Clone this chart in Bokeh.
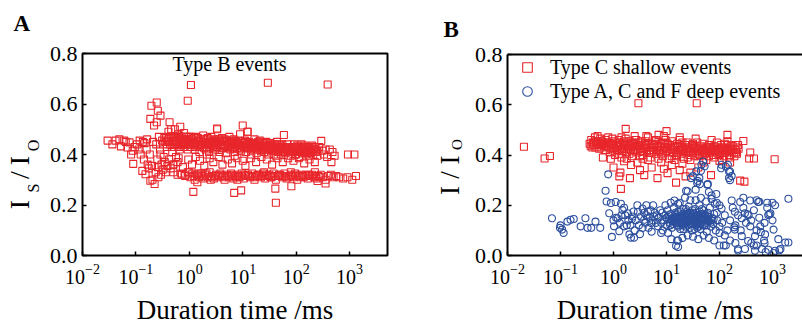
import numpy as np
from bokeh.plotting import figure
from bokeh.layouts import row
from bokeh.models import (FixedTicker, PrintfTickFormatter, Label, Legend, LegendItem,
                          LogAxis, Range1d)
from bokeh.embed import file_html
from bokeh.resources import INLINE

FONT = "Liberation Serif"
RED = "#e8262b"
BLUE = "#2c4f9e"

x_ticks = [0.01, 0.1, 1, 10, 100, 1000]
y_ticks = [0.0, 0.2, 0.4, 0.6, 0.8]
x_label = "Duration time /ms"
legend_labels = ["Type C shallow events", "Type A, C and F deep events"]

# ---- Panel A: Type B events  (log10 duration in ms, I_S/I_O) ----
typeB_points = [
    (-1.53,0.455),(-1.44,0.44),(-1.38,0.455),(-1.31,0.46),(-1.28,0.432),(-1.22,0.455),(-1.19,0.45),(-1.16,0.428),
    (-1.12,0.448),(-1.09,0.40),(-1.06,0.415),(-1.05,0.363),(-1.02,0.43),(-0.98,0.44),(-0.95,0.42),(-0.93,0.455),
    (-0.91,0.40),(-0.88,0.335),(-0.87,0.45),(-0.85,0.38),(-0.84,0.445),(-0.82,0.322),(-0.80,0.42),(-0.79,0.46),
    (-0.78,0.36),(-0.76,0.345),(-0.73,0.296),(-0.74,0.40),(-0.71,0.593),(-0.73,0.541),(-0.70,0.355),(-0.69,0.30),
    (-0.68,0.45),(-0.61,0.606),(-0.66,0.515),(-0.65,0.283),(-0.63,0.33),(-0.59,0.573),(-0.62,0.44),(-0.61,0.528),
    (-0.60,0.38),(-0.59,0.35),(-0.58,0.31),(-0.57,0.47),(-0.54,0.554),(-0.55,0.42),(-0.54,0.40),(-0.53,0.32),
    (-0.52,0.36),(-0.51,0.455),(-0.50,0.34),(-0.49,0.44),(-0.48,0.39),(-0.47,0.465),(-0.46,0.37),(-0.45,0.45),
    (-0.44,0.33),(-0.43,0.47),(-0.42,0.43),(-0.41,0.355),(-0.40,0.455),(-0.39,0.49),(-0.38,0.38),(-0.37,0.528),
    (-0.36,0.44),(-0.35,0.345),(-0.34,0.50),(-0.33,0.45),(-0.32,0.41),(-0.31,0.47),(-0.30,0.36),(-0.29,0.455),
    (-0.28,0.43),(-0.27,0.50),(-0.26,0.44),(-0.25,0.39),(-0.24,0.465),(-0.23,0.45),(-0.22,0.37),(-0.21,0.48),
    (-0.20,0.44),(-0.19,0.46),(-0.18,0.42),(-0.17,0.51),(-0.16,0.45),(-0.15,0.47),(-0.14,0.32),(-0.13,0.44),
    (-0.12,0.46),(-0.11,0.43),(-0.10,0.485),(-0.09,0.45),(-0.08,0.32),(-0.07,0.47),(-0.06,0.44),(-0.03,0.613),
    (-0.04,0.46),(-0.03,0.42),(-0.02,0.45),(-0.01,0.33),(0.0,0.47),
    # upper band
    (0.02,0.43),(0.05,0.46),(0.08,0.445),(0.10,0.42),(0.12,0.47),(0.15,0.45),(0.17,0.435),(0.19,0.41),
    (0.21,0.46),(0.24,0.44),(0.26,0.475),(0.28,0.425),(0.30,0.45),(0.33,0.43),(0.35,0.46),(0.37,0.41),
    (0.39,0.445),(0.41,0.47),(0.44,0.435),(0.46,0.455),(0.48,0.42),(0.50,0.445),(0.52,0.50),(0.53,0.43),
    (0.55,0.46),(0.57,0.41),(0.59,0.44),(0.61,0.465),(0.63,0.425),(0.65,0.45),(0.67,0.435),(0.69,0.405),
    (0.71,0.455),(0.73,0.44),(0.75,0.47),(0.77,0.42),(0.79,0.445),(0.81,0.43),(0.83,0.46),(0.85,0.41),
    (0.87,0.44),(0.89,0.425),(0.91,0.455),(0.93,0.435),(0.95,0.48),(0.97,0.415),(0.99,0.445),(1.00,0.515),
    (1.02,0.43),(1.04,0.455),(1.06,0.41),(1.08,0.44),(1.09,0.49),(1.10,0.425),(1.12,0.45),(1.14,0.435),
    (1.16,0.40),(1.18,0.445),(1.20,0.42),(1.22,0.46),(1.24,0.43),(1.26,0.405),(1.28,0.44),(1.30,0.425),
    (1.32,0.455),(1.34,0.415),(1.36,0.435),(1.38,0.445),(1.40,0.41),(1.42,0.43),(1.44,0.45),(1.46,0.42),
    (1.48,0.40),(1.50,0.435),(1.52,0.445),(1.54,0.415),(1.56,0.43),(1.58,0.40),(1.60,0.44),(1.62,0.42),
    (1.64,0.45),(1.66,0.41),(1.68,0.43),(1.70,0.42),(1.72,0.40),(1.74,0.44),(1.76,0.415),(1.77,0.477),
    (1.78,0.43),(1.80,0.405),(1.82,0.42),(1.84,0.44),(1.86,0.41),(1.88,0.425),(1.90,0.395),(1.92,0.43),
    (1.94,0.415),(1.96,0.44),(1.98,0.40),(2.00,0.42),(2.02,0.435),(2.04,0.41),(2.06,0.39),(2.08,0.425),
    (2.10,0.44),(2.12,0.405),(2.14,0.42),(2.16,0.435),(2.18,0.40),(2.20,0.415),(2.22,0.43),(2.24,0.395),
    (2.26,0.42),(2.28,0.41),(2.30,0.435),(2.32,0.40),(2.34,0.42),(2.37,0.41),(2.40,0.395),(2.43,0.43),
    (2.47,0.454),(2.49,0.415),(2.52,0.40),(2.55,0.42),(2.58,0.39),(2.63,0.42),(2.66,0.37),(2.68,0.41),
    (2.72,0.395),(2.97,0.40),(3.09,0.40),
    (-0.35,0.47),(-0.30,0.44),(-0.25,0.455),(-0.20,0.43),(-0.15,0.46),(-0.10,0.44),(-0.05,0.47),(0.00,0.455),
    (0.04,0.44),(0.09,0.465),(0.13,0.43),(0.18,0.455),(0.22,0.44),(0.27,0.46),(0.31,0.42),(0.36,0.445),
    (0.40,0.455),(0.45,0.425),(0.49,0.46),(0.54,0.44),(0.58,0.455),(0.62,0.435),(0.66,0.46),(0.70,0.43),
    (0.74,0.45),(0.78,0.435),(0.82,0.45),(0.86,0.43),(0.90,0.445),(0.94,0.42),(0.98,0.435),(1.03,0.445),
    (1.07,0.425),(1.11,0.44),(1.15,0.42),(1.19,0.435),(1.23,0.445),(1.27,0.42),(1.31,0.435),(1.35,0.425),
    (1.39,0.43),(1.43,0.42),(1.47,0.435),(1.51,0.425),(1.55,0.44),(1.59,0.42),(1.63,0.43),(1.67,0.425),
    (1.71,0.435),(1.75,0.42),(1.79,0.425),(1.83,0.43),(1.87,0.42),(1.91,0.415),(1.95,0.425),(1.99,0.43),
    (2.03,0.42),(2.07,0.415),(2.11,0.425),(2.15,0.41),(2.19,0.425),(2.23,0.415),(2.27,0.405),(2.31,0.42),
    (2.35,0.43),(2.39,0.415),
    (-0.42,0.45),(-0.38,0.465),(-0.33,0.43),(-0.28,0.47),(-0.24,0.44),(-0.19,0.475),(-0.14,0.445),(-0.09,0.43),
    (-0.06,0.455),(-0.01,0.44),(0.03,0.47),(0.07,0.45),(0.11,0.44),(0.16,0.465),(0.20,0.43),(0.25,0.45),
    (0.29,0.44),(0.34,0.465),(0.38,0.43),(0.43,0.45),(0.47,0.44),(0.51,0.43),(0.56,0.45),(0.60,0.425),
    (0.64,0.44),(0.68,0.455),(0.72,0.425),(0.76,0.445),(0.80,0.455),(0.84,0.425),(0.88,0.45),(0.92,0.44),
    (0.96,0.425),(1.01,0.435),(1.05,0.45),(1.09,0.43),(1.13,0.445),(1.17,0.425),(1.21,0.44),(1.25,0.43),
    (1.29,0.45),(1.33,0.43),(1.37,0.42),(1.41,0.44),(1.45,0.43),(1.49,0.42),(1.53,0.435),(1.57,0.415),
    (1.61,0.43),(1.65,0.42),(1.69,0.44),(1.73,0.425),(1.77,0.41),(1.81,0.43),(1.85,0.425),(1.89,0.41),
    (1.93,0.425),(1.97,0.415),(2.01,0.41),(2.05,0.425),(2.09,0.41),(2.13,0.43),(2.17,0.42),(2.21,0.405),
    (2.25,0.425),(2.29,0.415),(2.33,0.425),(2.38,0.42),
    # between the bands
    (-0.30,0.36),(-0.20,0.385),(-0.12,0.35),(-0.02,0.38),(0.05,0.36),(0.12,0.39),(0.20,0.375),(0.28,0.355),
    (0.38,0.385),(0.45,0.37),(0.55,0.39),(0.62,0.36),(0.72,0.38),(0.80,0.365),(0.90,0.385),(1.00,0.375),
    (1.05,0.355),(1.15,0.385),(1.25,0.37),(1.35,0.39),(1.45,0.38),(1.55,0.36),(1.65,0.385),(1.75,0.37),
    (1.85,0.385),(1.95,0.375),(2.05,0.385),(2.15,0.365),(2.25,0.38),(2.35,0.37),(0.33,0.40),(0.85,0.395),
    (1.62,0.395),(2.00,0.40),
    # lower band
    (-0.30,0.33),(-0.22,0.32),(-0.15,0.325),(-0.08,0.315),(-0.03,0.33),(0.02,0.31),(0.06,0.325),(0.10,0.30),
    (0.14,0.32),(0.18,0.31),(0.22,0.325),(0.26,0.305),(0.30,0.32),(0.34,0.31),(0.38,0.33),(0.42,0.315),
    (0.46,0.305),(0.50,0.32),(0.54,0.31),(0.58,0.325),(0.62,0.315),(0.66,0.30),(0.70,0.32),(0.74,0.31),
    (0.78,0.325),(0.82,0.305),(0.86,0.315),(0.90,0.32),(0.94,0.31),(0.98,0.325),(1.02,0.305),(1.06,0.315),
    (1.10,0.32),(1.14,0.31),(1.18,0.325),(1.22,0.30),(1.26,0.315),(1.30,0.32),(1.34,0.31),(1.38,0.325),
    (1.42,0.305),(1.46,0.315),(1.50,0.32),(1.54,0.31),(1.58,0.325),(1.62,0.30),(1.66,0.315),(1.70,0.32),
    (1.74,0.31),(1.78,0.325),(1.82,0.305),(1.86,0.315),(1.90,0.32),(1.94,0.31),(1.98,0.325),(2.02,0.30),
    (2.06,0.315),(2.10,0.32),(2.14,0.31),(2.18,0.32),(2.22,0.305),(2.26,0.315),(2.30,0.32),(2.34,0.31),
    (2.38,0.305),(2.42,0.315),(2.46,0.32),(2.50,0.31),(2.55,0.30),(2.60,0.315),(2.65,0.32),(2.70,0.31),
    (2.75,0.315),(2.80,0.31),(2.88,0.305),(2.96,0.31),(3.05,0.30),(3.12,0.315),(0.40,0.30),(0.90,0.30),
    (1.40,0.33),(1.90,0.33),(2.40,0.295),(2.55,0.285),(2.35,0.33),
    (0.08,0.315),(0.16,0.325),(0.24,0.315),(0.32,0.325),(0.40,0.31),(0.48,0.315),(0.56,0.32),(0.64,0.31),
    (0.72,0.315),(0.80,0.32),(0.88,0.31),(0.96,0.315),(1.04,0.32),(1.12,0.315),(1.20,0.31),(1.28,0.32),
    (1.36,0.315),(1.44,0.32),(1.52,0.31),(1.60,0.315),(1.68,0.32),(1.76,0.315),(1.84,0.31),(1.92,0.315),
    (2.00,0.32),(2.08,0.31),(2.16,0.315),(2.24,0.32),(2.32,0.315),(2.44,0.31),
    # outliers
    (0.03,0.675),(1.47,0.684),(2.59,0.677),(0.075,0.252),(0.84,0.248),(0.97,0.258),(1.61,0.265),(1.62,0.209),
    (1.91,0.274),(0.52,0.503),(1.09,0.49),(0.15,0.29),
]

# ---- Panel B: Type C shallow events ----
typeC_points = [
    (-1.69,0.433),(-1.30,0.386),(-1.20,0.396),(0.47,0.606),(1.57,0.606),(3.04,0.383),(0.14,0.265),(0.23,0.504),
    (1.00,0.495),(2.15,0.48),(2.45,0.456),(2.39,0.298),(2.47,0.294),(2.58,0.41),(2.65,0.386),(2.56,0.386),
    (0.11,0.315),(0.31,0.308),(0.13,0.33),(0.58,0.32),(0.83,0.308),(1.02,0.328),(1.18,0.29),(1.36,0.315),
    (0.33,0.36),(0.72,0.35),(1.84,0.32),(2.00,0.376),(0.00,0.35),(0.50,0.34),(0.95,0.345),(1.25,0.34),
    (1.45,0.33),(1.60,0.35),(0.20,0.375),(0.45,0.37),(0.90,0.37),(1.30,0.365),(1.70,0.37),(2.20,0.37),
    (1.10,0.36),(0.65,0.38),(-0.05,0.385),(-0.20,0.39),
    (-0.45,0.445),(-0.42,0.46),(-0.40,0.43),(-0.37,0.45),(-0.35,0.47),(-0.32,0.44),(-0.30,0.455),(-0.27,0.425),
    (-0.25,0.465),(-0.22,0.44),(-0.20,0.45),(-0.17,0.42),(-0.15,0.46),(-0.12,0.435),(-0.10,0.45),(-0.07,0.41),
    (-0.05,0.445),(-0.02,0.465),(0.00,0.43),(0.03,0.40),(0.05,0.45),(0.08,0.42),(0.10,0.46),(0.13,0.435),
    (0.15,0.39),(0.18,0.445),(0.20,0.425),(0.23,0.465),(0.25,0.41),(0.28,0.44),(0.30,0.455),(0.33,0.42),
    (0.35,0.395),(0.38,0.445),(0.40,0.43),(0.43,0.46),(0.45,0.41),(0.48,0.44),(0.50,0.425),(0.53,0.455),
    (0.55,0.40),(0.58,0.435),(0.60,0.445),(0.63,0.415),(0.65,0.47),(0.68,0.43),(0.70,0.39),(0.73,0.445),
    (0.75,0.42),(0.78,0.455),(0.80,0.405),(0.83,0.435),(0.85,0.48),(0.88,0.42),(0.90,0.445),(0.93,0.395),
    (0.95,0.43),(0.98,0.46),(1.00,0.415),(1.03,0.44),(1.05,0.385),(1.08,0.425),(1.10,0.455),(1.13,0.41),
    (1.15,0.435),(1.18,0.395),(1.20,0.445),(1.23,0.42),(1.25,0.46),(1.28,0.405),(1.30,0.43),(1.33,0.385),
    (1.35,0.44),(1.38,0.415),(1.40,0.45),(1.43,0.40),(1.45,0.425),(1.48,0.44),(1.50,0.41),(1.53,0.395),
    (1.55,0.43),(1.58,0.45),(1.60,0.415),(1.63,0.40),(1.65,0.435),(1.68,0.42),(1.70,0.445),(1.73,0.405),
    (1.75,0.43),(1.78,0.415),(1.80,0.395),(1.83,0.44),(1.85,0.42),(1.88,0.40),(1.90,0.435),(1.93,0.415),
    (1.95,0.45),(1.98,0.40),(2.00,0.425),(2.03,0.44),(2.05,0.41),(2.08,0.395),(2.10,0.43),(2.13,0.415),
    (2.15,0.44),(2.18,0.40),(2.20,0.425),(2.23,0.41),(2.25,0.435),(2.28,0.395),(2.30,0.42),(2.33,0.405),
    (2.36,0.425),
    (-0.38,0.44),(-0.33,0.455),(-0.28,0.44),(-0.23,0.455),(-0.18,0.435),(-0.13,0.45),(-0.08,0.43),(-0.03,0.445),
    (0.02,0.415),(0.07,0.435),(0.12,0.45),(0.17,0.415),(0.22,0.44),(0.27,0.43),(0.32,0.445),(0.37,0.415),
    (0.42,0.435),(0.47,0.45),(0.52,0.415),(0.57,0.425),(0.62,0.44),(0.67,0.41),(0.72,0.43),(0.77,0.44),
    (0.82,0.42),(0.87,0.435),(0.92,0.41),(0.97,0.43),(1.02,0.445),(1.07,0.41),(1.12,0.43),(1.17,0.42),
    (1.22,0.435),(1.27,0.415),(1.32,0.425),(1.37,0.43),(1.42,0.415),(1.47,0.425),(1.52,0.43),(1.57,0.415),
    (1.62,0.425),(1.67,0.41),(1.72,0.425),(1.77,0.43),(1.82,0.41),(1.87,0.425),(1.92,0.43),(1.97,0.415),
    (2.02,0.425),(2.07,0.42),(2.12,0.425),(2.17,0.415),(2.22,0.42),(2.27,0.41),(2.32,0.43),
    (0.00,0.455),(0.10,0.405),(0.20,0.455),(0.30,0.405),(0.40,0.46),(0.50,0.395),(0.60,0.455),(0.70,0.41),
    (0.80,0.46),(0.90,0.405),(1.00,0.45),(1.10,0.395),(1.20,0.40),(1.30,0.45),(1.40,0.39),(1.50,0.445),
    (1.60,0.395),(1.70,0.40),(1.80,0.44),(1.90,0.39),(2.00,0.40),(2.10,0.445),(2.20,0.39),(2.30,0.44),
    (0.25,0.385),(0.55,0.385),(0.85,0.385),(1.15,0.38),(1.45,0.38),(1.75,0.38),(2.05,0.38),(0.62,0.475),
    (0.95,0.475),(1.25,0.47),(1.55,0.465),(1.85,0.46),(2.15,0.455),(-0.30,0.475),(-0.10,0.47),(0.15,0.47),
    (0.40,0.475),
    (-0.43,0.435),(-0.39,0.45),(-0.34,0.43),(-0.29,0.445),(-0.24,0.43),(-0.19,0.445),(-0.14,0.42),(-0.09,0.445),
    (-0.04,0.425),(0.01,0.44),(0.06,0.425),(0.11,0.44),(0.16,0.425),(0.21,0.45),(0.26,0.425),(0.31,0.435),
    (0.36,0.45),(0.41,0.42),(0.46,0.435),(0.51,0.44),(0.56,0.415),(0.61,0.43),(0.66,0.445),(0.71,0.42),
    (0.76,0.43),(0.81,0.445),(0.86,0.415),(0.91,0.43),(0.96,0.445),(1.01,0.425),(1.06,0.44),(1.11,0.42),
    (1.16,0.43),(1.21,0.41),(1.26,0.435),(1.31,0.42),(1.36,0.41),(1.41,0.43),(1.46,0.415),(1.51,0.435),
    (1.56,0.425),(1.61,0.405),(1.66,0.43),(1.71,0.415),(1.76,0.42),(1.81,0.43),(1.86,0.41),(1.91,0.42),
    (1.96,0.43),(2.01,0.41),(2.06,0.43),(2.11,0.41),(2.16,0.425),(2.21,0.435),(2.26,0.42),(2.31,0.41),
    (2.35,0.44),
]

# ---- Panel B: Type A, C and F deep events ----
deep_points = [
    (-1.16,0.148),(-1.00,0.12),(-0.97,0.103),(-0.94,0.09),(-1.01,0.11),(-0.87,0.135),(-0.81,0.142),(-0.75,0.145),
    (-0.62,0.116),(-0.53,0.148),(-0.49,0.11),(-0.42,0.11),(-0.34,0.135),(-0.25,0.11),(-0.15,0.258),(-0.10,0.323),
    (-0.13,0.215),(-0.05,0.209),(-0.03,0.074),(-0.08,0.168),(0.04,0.213),(0.14,0.206),(0.17,0.181),(0.08,0.148),
    (0.01,0.116),(0.11,0.097),(0.20,0.116),(0.30,0.084),(0.33,0.071),(0.39,0.071),(0.27,0.168),(0.36,0.155),
    (0.46,0.174),(0.55,0.187),(0.65,0.174),(0.58,0.142),(0.71,0.129),(0.77,0.155),(0.84,0.116),(0.93,0.10),
    (1.03,0.09),(1.09,0.065),(1.18,0.039),(1.15,0.219),(1.22,0.206),(1.37,0.258),(1.50,0.316),(1.56,0.335),
    (1.66,0.361),(1.69,0.374),(1.72,0.355),(1.59,0.297),(1.63,0.284),(1.78,0.284),(1.85,0.239),(1.94,0.245),
    (2.04,0.361),(2.16,0.361),(2.20,0.335),(2.23,0.316),(2.20,0.30),
    (1.91,0.206),(2.04,0.187),(2.23,0.219),(2.29,0.174),(2.39,0.213),(2.42,0.148),(2.48,0.168),(2.58,0.219),
    (2.73,0.213),(2.58,0.116),(2.67,0.077),(2.77,0.116),(2.86,0.084),(2.92,0.161),(2.96,0.168),(3.02,0.103),
    (3.11,0.065),(3.30,0.226),(3.30,0.052),(2.29,0.103),(2.42,0.077),(2.54,0.058),(2.35,0.026),(2.48,0.026),
    (2.67,0.019),(2.80,0.026),(2.92,0.023),(3.05,0.019),(3.15,0.026),(3.24,0.052),(3.13,0.021),(3.02,0.01),
    (2.87,0.014),(2.78,0.093),(2.65,0.04),(2.84,0.06),(2.75,0.214),(2.90,0.21),(2.94,0.164),(2.53,0.164),
    (2.28,0.112),(1.22,0.034),(1.22,0.06),(2.08,0.04),(2.35,0.02),
    # dense cluster
    (0.85,0.15),(0.90,0.13),(0.92,0.17),(0.95,0.14),(0.98,0.16),(1.00,0.12),(1.02,0.18),(1.04,0.145),
    (1.06,0.13),(1.08,0.165),(1.10,0.11),(1.12,0.15),(1.14,0.19),(1.16,0.135),(1.18,0.16),(1.20,0.12),
    (1.22,0.175),(1.24,0.145),(1.26,0.105),(1.28,0.16),(1.30,0.13),(1.32,0.185),(1.34,0.15),(1.36,0.115),
    (1.38,0.165),(1.40,0.14),(1.42,0.195),(1.44,0.125),(1.46,0.155),(1.48,0.10),(1.50,0.17),(1.52,0.14),
    (1.54,0.185),(1.56,0.12),(1.58,0.155),(1.60,0.135),(1.62,0.20),(1.64,0.105),(1.66,0.165),(1.68,0.14),
    (1.70,0.18),(1.72,0.12),(1.74,0.155),(1.76,0.095),(1.78,0.17),(1.80,0.135),(1.82,0.19),(1.84,0.115),
    (1.86,0.15),(1.88,0.125),(1.90,0.165),(1.93,0.10),(1.96,0.14),(2.00,0.115),
    (1.00,0.15),(1.05,0.16),(1.10,0.14),(1.15,0.155),(1.20,0.145),(1.25,0.13),(1.30,0.155),(1.35,0.135),
    (1.40,0.12),(1.45,0.17),(1.50,0.125),(1.55,0.145),(1.60,0.16),(1.65,0.125),(1.70,0.145),(1.75,0.13),
    (1.80,0.155),(1.85,0.14),(1.12,0.125),(1.22,0.115),(1.32,0.105),(1.42,0.165),(1.52,0.155),(1.62,0.145),
    (1.72,0.165),(1.27,0.175),(1.37,0.185),(1.47,0.14),(1.57,0.17),(1.67,0.185),(1.77,0.145),(1.17,0.17),
    (1.07,0.12),(1.44,0.11),(1.58,0.11),(1.34,0.125),(1.63,0.175),(1.53,0.105),(1.39,0.15),(1.49,0.18),
    (1.13,0.14),(1.18,0.13),(1.23,0.155),(1.28,0.14),(1.33,0.165),(1.38,0.13),(1.43,0.145),(1.48,0.155),
    (1.53,0.13),(1.58,0.14),(1.63,0.155),(1.68,0.12),(1.73,0.14),(1.78,0.155),(1.83,0.13),(1.21,0.135),
    (1.31,0.145),(1.41,0.155),(1.51,0.145),(1.61,0.13),(1.71,0.155),(1.26,0.15),(1.36,0.16),(1.46,0.125),
    (1.56,0.16),(1.66,0.15),(1.76,0.12),(1.16,0.145),(1.41,0.135),(1.51,0.165),(1.61,0.115),(1.29,0.12),
    (1.49,0.135),(1.69,0.165),(1.19,0.15),(1.39,0.175),(1.59,0.125),(1.79,0.14),(1.09,0.145),(1.89,0.145),
    # medium spread
    (0.05,0.15),(0.12,0.13),(0.22,0.16),(0.28,0.14),(0.32,0.12),(0.38,0.175),(0.42,0.14),(0.48,0.12),
    (0.52,0.155),(0.58,0.17),(0.60,0.13),(0.62,0.16),(0.68,0.15),(0.70,0.18),(0.74,0.14),(0.78,0.17),
    (0.80,0.13),(0.82,0.16),(0.88,0.18),(0.20,0.19),(0.45,0.20),(0.62,0.20),(0.72,0.095),(0.50,0.085),
    (0.25,0.12),(0.00,0.14),(0.15,0.16),(0.35,0.145),(0.55,0.11),(0.66,0.11),(0.90,0.09),(0.75,0.20),
    (0.98,0.20),(1.08,0.21),(1.25,0.21),(0.40,0.10),
    (1.95,0.17),(2.00,0.20),(2.05,0.13),(2.10,0.16),(2.15,0.10),(2.20,0.14),(2.25,0.19),(2.30,0.12),
    (2.35,0.16),(2.40,0.10),(2.45,0.19),(2.50,0.13),(2.55,0.16),(2.60,0.14),(2.65,0.18),(2.70,0.10),
    (2.75,0.15),(2.85,0.13),(2.90,0.19),(3.00,0.14),(3.05,0.20),(2.10,0.08),(2.20,0.06),(2.00,0.09),
    (1.90,0.06),(1.95,0.21),(2.30,0.05),(2.60,0.05),(2.70,0.04),(2.85,0.05),(2.12,0.04),(2.00,0.04),
    (1.80,0.07),(1.70,0.08),(1.60,0.065),(1.50,0.075),(1.40,0.08),(1.30,0.07),(1.20,0.06),(1.55,0.22),
    (1.65,0.23),(1.75,0.215),(1.85,0.225),(1.45,0.22),(1.35,0.23),(2.45,0.23),(2.70,0.22),(3.00,0.21),
    (1.80,0.253),(1.55,0.262),(1.40,0.256),(1.46,0.308),(1.58,0.289),(2.03,0.347),(2.12,0.354),(2.18,0.334),
    (2.18,0.308),(1.77,0.282),(1.62,0.308),(1.65,0.337),
]

typeB_ms = 10 ** np.array([p[0] for p in typeB_points])
typeB_ratio = [p[1] for p in typeB_points]
typeC_ms = 10 ** np.array([p[0] for p in typeC_points])
typeC_ratio = [p[1] for p in typeC_points]
deep_ms = 10 ** np.array([p[0] for p in deep_points])
deep_ratio = [p[1] for p in deep_points]

H = 327


def style_axes(p):
    p.grid.visible = False
    p.background_fill_color = "white"
    p.border_fill_color = "white"
    for ax in p.xaxis:
        ax.ticker = FixedTicker(ticks=x_ticks, minor_ticks=[])
        ax.major_tick_in = 4
        ax.major_tick_out = 0
        ax.minor_tick_in = 0
        ax.minor_tick_out = 0
        ax.major_tick_line_width = 1.5
        ax.major_label_standoff = 8
        ax.major_label_text_font = FONT
        ax.major_label_text_font_size = "20px"
        ax.major_label_text_color = "black"
        ax.axis_label = x_label
        ax.axis_label_text_font = FONT
        ax.axis_label_text_font_size = "27px"
        ax.axis_label_text_font_style = "normal"
        ax.axis_label_text_color = "black"
        ax.axis_label_standoff = 8
    for ax in p.yaxis:
        ax.ticker = FixedTicker(ticks=y_ticks, minor_ticks=[])
        ax.formatter = PrintfTickFormatter(format="%.1f")
        ax.major_tick_in = 4
        ax.major_tick_out = 0
        ax.minor_tick_in = 0
        ax.minor_tick_out = 0
        ax.major_tick_line_width = 1.5
        ax.major_label_standoff = 5
        ax.major_label_text_font = FONT
        ax.major_label_text_font_size = "22px"
        ax.major_label_text_color = "black"


def add_text(p, text, x, y, size, angle=0.0, align="left", style="normal"):
    # (x, y) is the middle of the text line
    p.add_layout(Label(x=x, y=y, x_units="screen", y_units="screen", text=text, angle=angle,
                       text_align=align, text_baseline="middle", text_font=FONT,
                       text_font_size=f"{size}px", text_font_style=style, text_color="black"))


def side_figure(width):
    f = figure(width=width, height=H, x_range=Range1d(0, 1), y_range=Range1d(0, 1),
               output_backend="svg", toolbar_location=None,
               x_axis_location=None, y_axis_location=None, frame_align=False,
               min_border_left=0, min_border_right=0, min_border_top=0, min_border_bottom=0)
    f.grid.visible = False
    f.outline_line_color = None
    return f


# vertical text reading bottom-to-top
ang = np.pi / 2

# ---------------- side strip of panel A (letter + y label) ----------------
sA = side_figure(46)
add_text(sA, "A", 13, H - 22.5, 23, style="bold")
add_text(sA, "I", 18.5, H - 204, 28, angle=ang, align="center")
add_text(sA, "S", 32.5, H - 187.5, 16, angle=ang, align="center")
add_text(sA, "/", 18.5, H - 174.5, 28, angle=ang, align="center")
add_text(sA, "I", 18.5, H - 160, 28, angle=ang, align="center")
add_text(sA, "O", 32.5, H - 145, 16, angle=ang, align="center")

# ---------------- Panel A ----------------
pA = figure(width=386, height=H, x_axis_type="log",
            x_range=Range1d(0.01, 10 ** 3.71), y_range=Range1d(0, 0.8),
            output_backend="svg", toolbar_location=None, frame_align=False,
            min_border_left=36, min_border_right=45, min_border_top=53, min_border_bottom=67)
style_axes(pA)
pA.outline_line_color = "black"
pA.outline_line_width = 2
pA.xaxis.axis_line_color = None
pA.yaxis.axis_line_color = None
pA.scatter(typeB_ms, typeB_ratio, marker="square", size=7, fill_color=None,
           line_color=RED, line_width=1.1)
add_text(pA, "Type B events", 147, 191.5, 20, align="center")

# ---------------- side strip of panel B ----------------
sB = side_figure(38)
add_text(sB, "B", 11, H - 28.5, 23, style="bold")
add_text(sB, "I", 17, H - 190, 27, angle=ang, align="center")
add_text(sB, "/", 17, H - 174.5, 27, angle=ang, align="center")
add_text(sB, "I", 17, H - 159.5, 27, angle=ang, align="center")
add_text(sB, "O", 24.5, H - 144, 15, angle=ang, align="center")

# ---------------- Panel B ----------------
pB = figure(width=332, height=H, x_axis_type="log",
            x_range=Range1d(0.01, 10 ** 3.566), y_range=Range1d(0, 0.8),
            output_backend="svg", toolbar_location=None, frame_align=False,
            min_border_left=37, min_border_right=0, min_border_top=54, min_border_bottom=68)
style_axes(pB)
pB.outline_line_color = None
for ax in list(pB.xaxis) + list(pB.yaxis):
    ax.axis_line_color = "black"
    ax.axis_line_width = 2
top_ax = LogAxis(ticker=FixedTicker(ticks=[], minor_ticks=[]), major_tick_in=0, major_tick_out=0,
                 minor_tick_in=0, minor_tick_out=0, major_label_standoff=0,
                 major_label_text_font_size="0px", axis_line_width=2, axis_line_color="black")
pB.add_layout(top_ax, "above")

rC = pB.scatter(typeC_ms, typeC_ratio, marker="square", size=7, fill_color=None,
                line_color=RED, line_width=1.1)
rD = pB.scatter(deep_ms, deep_ratio, marker="circle", size=7, fill_color=None,
                line_color=BLUE, line_width=1.1)
legend = Legend(items=[LegendItem(label=legend_labels[0], renderers=[rC]),
                       LegendItem(label=legend_labels[1], renderers=[rD])],
                location="top_left", margin=1, padding=2, glyph_width=38, glyph_height=24,
                label_height=24, spacing=0, label_standoff=4, label_text_font=FONT,
                label_text_font_size="20px", label_text_color="black",
                border_line_color=None, background_fill_alpha=0)
pB.add_layout(legend)

layout = row(sA, pA, sB, pB)
open("out.html", "w").write(file_html(layout, INLINE))
